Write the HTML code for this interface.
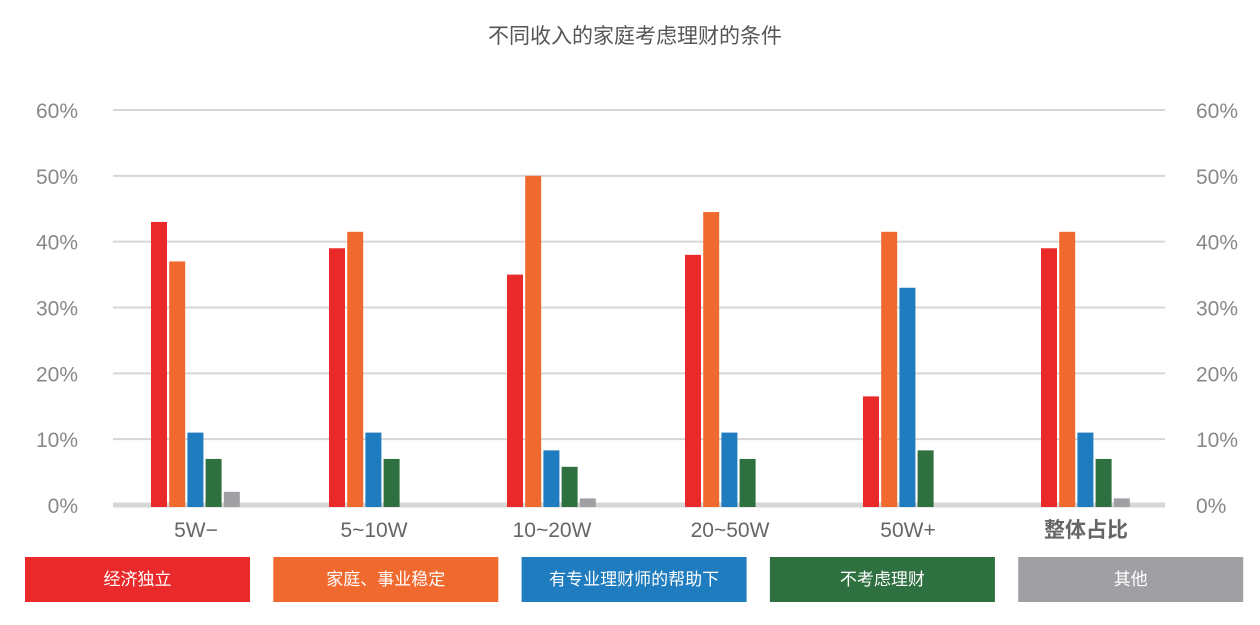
<!DOCTYPE html>
<html><head><meta charset="utf-8"><style>
body{margin:0;background:#fff;width:1260px;height:620px;overflow:hidden;font-family:"Liberation Sans","Noto Sans CJK SC",sans-serif}
</style></head><body>
<svg id="c" width="1260" height="620" style="font-family:'Liberation Sans','Noto Sans CJK SC',sans-serif">
<text x="635" y="43" text-anchor="middle" font-size="21" fill="#555">不同收入的家庭考虑理财的条件</text>
</svg>
<script>
const categories=["5W−","5~10W","10~20W","20~50W","50W+","整体占比"];
const seriesNames=["经济独立","家庭、事业稳定","有专业理财师的帮助下","不考虑理财","其他"];
const s1=[43,39,35,38,16.5,39];
const s2=[37,41.5,50,44.5,41.5,41.5];
const s3=[11,11,8.3,11,33,11];
const s4=[7,7,5.8,7,8.3,7];
const s5=[2,0,1,0,0,1];
const ticks=[0,10,20,30,40,50,60];
const tickLabels=["0%","10%","20%","30%","40%","50%","60%"];
const series=[s1,s2,s3,s4,s5];
const colors=["#ea2a2a","#f06a30","#1f7cbf","#2e7040","#a0a0a4"];
const svg=document.getElementById('c');const NS="http://www.w3.org/2000/svg";
function mk(t,a,p){const e=document.createElementNS(NS,t);for(const k in a)e.setAttribute(k,a[k]);(p||svg).appendChild(e);return e;}
const y=v=>505-v*6.583;
const gx=i=>196+i*178;
ticks.forEach((t,i)=>{
 const l=mk('line',{x1:113,x2:1165,y1:y(t),y2:y(t),stroke:'#d6d6d6','stroke-width':i==0?5:2});
 
 
 [[78,'end'],[1196,'start']].forEach(([x,a])=>{
  const tx=mk('text',{x:x,y:y(t)+8,'text-anchor':a,'font-size':21,fill:'#888'});tx.textContent=tickLabels[i];
  
  
 });
});
categories.forEach((c,i)=>{
 series.forEach((s,j)=>{
  const v=s[i];if(v<=0)return;
  const r=mk('rect',{x:gx(i)-45+j*18.2,y:y(v),width:16,height:507-y(v),fill:colors[j]});
  
  
 });
 const t=mk('text',{x:gx(i),y:537,'text-anchor':'middle','font-size':21,fill:'#666','font-weight':i==5?'bold':'normal'});t.textContent=c;
 
 
});
seriesNames.forEach((n,j)=>{
 const x=25+j*248.3;
 const r=mk('rect',{x:x,y:557,width:225,height:45,fill:colors[j]});
 
 
 const t=mk('text',{x:x+112.5,y:585,'text-anchor':'middle','font-size':17,fill:'#fff'});t.textContent=n;
 
 
});
</script>
</body></html>
